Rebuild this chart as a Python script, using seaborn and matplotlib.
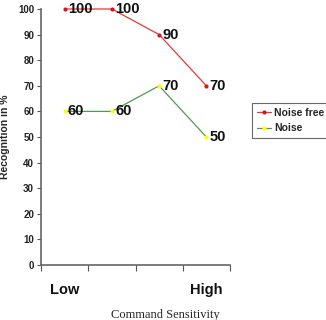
import matplotlib
matplotlib.use("Agg")
import matplotlib.pyplot as plt
import seaborn as sns
import pandas as pd
import numpy as np

categories = ["Low", "Mid-low", "Mid-high", "High"]
noise_free = [100, 100, 90, 70]
noise = [60, 60, 70, 50]
series_names = ["Noise free", "Noise"]

sns.set_style("white")
plt.rcParams['font.family'] = ['Liberation Sans', 'DejaVu Sans']

df = pd.DataFrame({
    "pos": list(range(len(categories))) * 2,
    "value": noise_free + noise,
    "series": [series_names[0]] * len(categories) + [series_names[1]] * len(categories),
})

fig = plt.figure(figsize=(3.26, 3.2), dpi=100)
ax = fig.add_axes([41/326, 1-265/320, 189/326, 256/320])

palette = {"Noise free": "#e8383a", "Noise": "#4f9a4f"}
sns.lineplot(data=df, x="pos", y="value", hue="series", palette=palette, ax=ax,
             linewidth=0.9, legend=False)
for ln in ax.get_lines():
    ln.set_clip_on(False)
# markers
for name, vals, mc in [("Noise free", noise_free, "#d01818"), ("Noise", noise, "#ffff00")]:
    sub = df[df.series == name]
    ax.plot(sub["pos"], sub["value"], linestyle="none", marker="o", markersize=3,
            color=mc, markeredgewidth=0, clip_on=False, zorder=5)
    for x, v in zip(sub["pos"], sub["value"]):
        ax.text(x + 0.07, v, f"{v}", fontsize=10.5, fontweight="bold", va="center",
                ha="left", color="#111111")

ax.set_xlim(-0.5, 3.5)
ax.set_ylim(0, 100)
ax.set_yticks(np.arange(0, 101, 10))
ax.tick_params(axis="y", left=True, labelsize=7, length=3, width=0.8, colors="#555555",
               labelcolor="#222222", pad=2)
for lab in ax.get_yticklabels():
    lab.set_fontweight("bold")

ax.set_xticks([0, 3])
ax.set_xticklabels(["Low", "High"], fontsize=10.5, fontweight="bold")
ax.tick_params(axis="x", which="major", bottom=False, length=0, pad=13, labelcolor="#111111")
ax.set_xticks(np.arange(-0.5, 3.6, 1), minor=True)
ax.tick_params(axis="x", which="minor", bottom=True, direction="out", length=4,
               width=0.8, color="#555555")

for s in ["top", "right"]:
    ax.spines[s].set_visible(False)
for s in ["left", "bottom"]:
    ax.spines[s].set_color("#666666")
    ax.spines[s].set_linewidth(1.2)

ax.set_xlabel("")
ax.set_ylabel("Recognition in %", fontsize=7.5, fontweight="bold", labelpad=6)

fig.text(165/326, 1-315/320, "Command Sensitivity", fontsize=9,
         family=["Liberation Serif", "DejaVu Serif"], ha="center", va="center")

from matplotlib.lines import Line2D
handles = [Line2D([0], [0], color="#e8383a", lw=0.9, marker="o", markersize=3,
                  markerfacecolor="#d01818", markeredgewidth=0),
           Line2D([0], [0], color="#4f9a4f", lw=0.9, marker="o", markersize=3,
                  markerfacecolor="#ffff00", markeredgewidth=0)]
leg = fig.legend(handles, series_names, loc="upper left",
                 bbox_to_anchor=(252/326, 1-103/320), frameon=True,
                 prop={"size": 7.5, "weight": "bold"},
                 fancybox=False, edgecolor="#444444", borderpad=0.45,
                 handlelength=1.4, handletextpad=0.3, labelspacing=0.55,
                 borderaxespad=0)
leg.get_frame().set_linewidth(0.8)

fig.savefig("out.png", dpi=100)
